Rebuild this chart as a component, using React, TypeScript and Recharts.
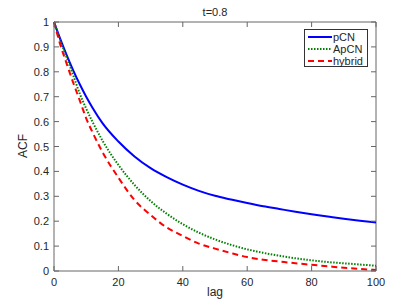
import React from "react";
import {
  LineChart,
  Line,
  XAxis,
  YAxis,
  ReferenceLine,
  Legend,
  Label,
} from "recharts";

// lag values (x) and the three ACF curves
const lags = [0, 2, 4, 6, 8, 10, 12, 15, 20, 25, 30, 35, 40, 45, 50, 55, 60, 65, 70, 75, 80, 85, 90, 95, 100];
const pcn = [1, 0.93, 0.865, 0.805, 0.75, 0.7, 0.655, 0.595, 0.52, 0.46, 0.413, 0.377, 0.347, 0.322, 0.302, 0.287, 0.273, 0.26, 0.249, 0.238, 0.228, 0.219, 0.21, 0.202, 0.195];
const apcn = [1, 0.925, 0.855, 0.785, 0.712, 0.652, 0.598, 0.525, 0.426, 0.346, 0.281, 0.23, 0.188, 0.154, 0.127, 0.105, 0.087, 0.073, 0.061, 0.051, 0.043, 0.036, 0.031, 0.026, 0.021];
const hybrid = [1, 0.907, 0.83, 0.755, 0.685, 0.613, 0.556, 0.479, 0.375, 0.285, 0.225, 0.175, 0.141, 0.11, 0.09, 0.072, 0.056, 0.045, 0.038, 0.031, 0.025, 0.019, 0.013, 0.008, 0.004];

const xTicks = [0, 20, 40, 60, 80, 100];
const yTicks = [0, 0.1, 0.2, 0.3, 0.4, 0.5, 0.6, 0.7, 0.8, 0.9, 1];

const SERIES = [
  { key: "pCN", name: "pCN", color: "#0000ff", dash: undefined as string | undefined },
  { key: "ApCN", name: "ApCN", color: "#008000", dash: "1.5 1.5" },
  { key: "hybrid", name: "hybrid", color: "#ff0000", dash: "6 4" },
];

const data = lags.map((lag, i) => ({
  lag,
  pCN: pcn[i],
  ApCN: apcn[i],
  hybrid: hybrid[i],
}));

const FONT = '"Liberation Sans", Arial, Helvetica, sans-serif';
const AXIS = "#666666";
const TEXT = "#262626";

// plot box in pixels (used only for the inward tick marks)
const PLOT = { left: 54, right: 376, top: 22, bottom: 271 };

const YTick = (props: any) => {
  const { y, payload } = props;
  return (
    <g>
      <line x1={PLOT.left} x2={PLOT.left + 5} y1={y} y2={y} stroke={AXIS} />
      <line x1={PLOT.right - 5} x2={PLOT.right} y1={y} y2={y} stroke={AXIS} />
      <text
        x={PLOT.left - 5}
        y={y}
        dy={4}
        textAnchor="end"
        fontSize={11}
        fontFamily={FONT}
        fill={TEXT}
      >
        {payload.value}
      </text>
    </g>
  );
};

const XTick = (props: any) => {
  const { x, payload } = props;
  return (
    <g>
      <line x1={x} x2={x} y1={PLOT.bottom} y2={PLOT.bottom - 5} stroke={AXIS} />
      <line x1={x} x2={x} y1={PLOT.top} y2={PLOT.top + 5} stroke={AXIS} />
      <text
        x={x}
        y={PLOT.bottom + 15}
        textAnchor="middle"
        fontSize={11}
        fontFamily={FONT}
        fill={TEXT}
      >
        {payload.value}
      </text>
    </g>
  );
};

const renderLegend = () => (
  <div
    style={{
      boxSizing: "border-box",
      width: 64,
      height: 38,
      border: "1px solid #333",
      background: "#fff",
      padding: "1px 0 0 3px",
      fontFamily: FONT,
      fontSize: 11,
      color: TEXT,
    }}
  >
    {SERIES.map((s) => (
      <div
        key={s.key}
        style={{ display: "flex", alignItems: "center", height: 12, lineHeight: "12px" }}
      >
        <svg width={24} height={4} style={{ display: "block", flex: "none" }}>
          <line
            x1={0}
            x2={24}
            y1={2}
            y2={2}
            stroke={s.color}
            strokeWidth={2}
            strokeDasharray={s.dash}
          />
        </svg>
        <span style={{ marginLeft: 1, whiteSpace: "nowrap" }}>{s.name}</span>
      </div>
    ))}
  </div>
);

export default function App() {
  return (
    <div
      style={{
        position: "absolute",
        left: 0,
        top: 0,
        width: 415,
        height: 306,
        background: "#fff",
      }}
    >
      <div
        style={{
          position: "absolute",
          left: 0,
          width: 430,
          top: 6,
          textAlign: "center",
          fontFamily: FONT,
          fontSize: 11,
          lineHeight: "12px",
          color: TEXT,
        }}
      >
        t=0.8
      </div>
      <LineChart
        width={415}
        height={306}
        data={data}
        margin={{ top: 22, right: 39, bottom: 0, left: 0 }}
      >
        <XAxis
          dataKey="lag"
          type="number"
          domain={[0, 100]}
          ticks={xTicks}
          height={35}
          tickLine={false}
          tickSize={0}
          stroke={AXIS}
          tick={<XTick />}
        >
          <Label
            value="lag"
            position="insideBottom"
            offset={10}
            style={{ fontFamily: FONT, fontSize: 12, fill: TEXT }}
          />
        </XAxis>
        <YAxis
          type="number"
          domain={[0, 1]}
          ticks={yTicks}
          width={54}
          tickLine={false}
          tickSize={0}
          stroke={AXIS}
          tick={<YTick />}
        >
          <Label
            content={() => (
              <text
                x={27}
                y={146}
                transform="rotate(-90, 27, 146)"
                textAnchor="middle"
                fontFamily={FONT}
                fontSize={12}
                fill={TEXT}
              >
                ACF
              </text>
            )}
          />
        </YAxis>
        <ReferenceLine y={1} stroke={AXIS} />
        <ReferenceLine x={100} stroke={AXIS} />
        {SERIES.map((s) => (
          <Line
            key={s.key}
            dataKey={s.key}
            name={s.name}
            type="monotone"
            stroke={s.color}
            strokeWidth={2}
            strokeDasharray={s.dash}
            dot={false}
            activeDot={false}
            isAnimationActive={false}
          />
        ))}
        <Legend
          layout="vertical"
          align="center"
          verticalAlign="middle"
          content={renderLegend}
          wrapperStyle={{ left: 304, top: 29, width: 64, height: 38 }}
        />
      </LineChart>
    </div>
  );
}
